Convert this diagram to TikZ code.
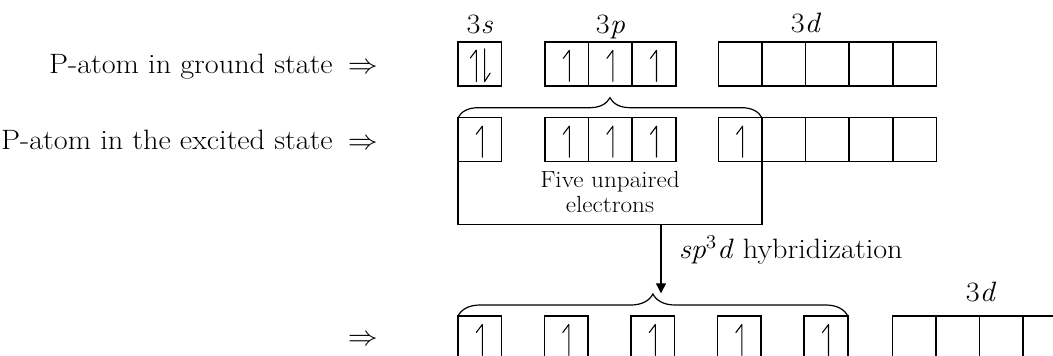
\documentclass[tikz,border=0pt]{standalone}
\usetikzlibrary{decorations.pathreplacing,arrows.meta,calc}
\newcommand{\sttx}[1]{\scalebox{1.08}[1]{#1}}
\newcommand{\uph}[1]{\draw[harp] ($(#1)+(2.5,17.5)$) -- ($(#1)+(2.5,-13.5)$) -- ++(-6,8);}
\begin{document}
\begin{tikzpicture}[x=0.75pt,y=-0.75pt,
  orb/.style={draw, line width=1.2pt, minimum width=32.7pt, minimum height=33pt, inner sep=0pt, outer sep=0pt},
  lbl/.style={font=\fontsize{21}{25}\selectfont, inner sep=0pt, anchor=base},
  small/.style={font=\fontsize{17.5}{18.3}\selectfont, inner sep=0pt, align=center},
  harp/.style={line width=0.8pt, line cap=round, line join=round},
  brc/.style={decorate, decoration={brace, amplitude=15pt}, line width=0.9pt},
  brcb/.style={decorate, decoration={brace, amplitude=16.5pt}, line width=0.9pt},
  arr/.style={line width=0.9pt, -{Triangle[length=7.5pt,width=7.5pt]}}]
\useasboundingbox (0,0) rectangle (1053,356);
\clip (0,0) rectangle (1053,356);

% left labels
\node[lbl, anchor=base east] (t1) at (378,73.3) {\sttx{P-atom in ground state\hspace{0.5em}$\Rightarrow$}};
\node[lbl, anchor=base east] (t2) at (378,149.1) {\sttx{P-atom in the excited state\hspace{0.5em}$\Rightarrow$}};
\node[lbl, anchor=base east] (t3) at (378,345) {\sttx{$\Rightarrow$}};

% orbital labels
\node[lbl] (l3s) at (479.8,33.3) {\sttx{3\textit{s}}};
\node[lbl] (l3p) at (610.4,33.3) {\sttx{3\textit{p}}};
\node[lbl] (l3d) at (806,32.8) {\sttx{3\textit{d}}};
\node[lbl] (l3db) at (981,301.7) {\sttx{3\textit{d}}};

% row 1: ground state
\node[orb] (s1) at (479.8,63.85) {};
\foreach \i/\x in {1/566.8,2/610.4,3/654.0}
  \node[orb] (p\i) at (\x,63.85) {};
\foreach \i/\x in {1/740.1,2/783.7,3/827.3,4/870.9,5/914.5}
  \node[orb] (d\i) at (\x,63.85) {};
\draw[harp] ($(s1)+(-3.5,17.8)$) -- ($(s1)+(-3.5,-13.8)$) -- ++(-6,8);
\draw[harp] ($(s1)+(4.8,-15)$) -- ($(s1)+(4.8,17.8)$) -- ++(5.5,-8.5);
\uph{p1}\uph{p2}\uph{p3}

% row 2: excited state
\node[orb] (e1) at (479.8,139.7) {};
\foreach \i/\x in {1/566.8,2/610.4,3/654.0}
  \node[orb] (ep\i) at (\x,139.7) {};
\foreach \i/\x in {1/740.1,2/783.7,3/827.3,4/870.9,5/914.5}
  \node[orb] (ed\i) at (\x,139.7) {};
\uph{e1}\uph{ep1}\uph{ep2}\uph{ep3}\uph{ed1}

\draw[brc] (e1.north west) -- (ed1.north east);
\coordinate (encl) at (610,224.3);
\draw[line width=1.2pt] (e1.south west) |- (encl) -| (ed1.south east);
\node[small, anchor=north] (five) at (610,171.3) {\sttx{Five unpaired}\\\sttx{electrons}};

% hybridization arrow
\coordinate (arrS) at (661,224.3);
\node[lbl, anchor=base west] (hyb) at (678.5,258.3) {\sttx{\textit{sp}\textsuperscript{3}\textit{d} hybridization}};

% row 3: hybrid orbitals
\foreach \i/\x in {1/479.8,2/566.3,3/652.8,4/739.4,5/826.0}
  \node[orb] (h\i) at (\x,338) {};
\foreach \i/\x in {1/914.1,2/957.7,3/1001.3,4/1044.9}
  \node[orb] (hd\i) at (\x,338) {};
\uph{h1}\uph{h2}\uph{h3}\uph{h4}\uph{h5}

\draw[brcb] (h1.north west) -- (h5.north east);
\coordinate (tip3) at ($(h1.north west)!0.5!(h5.north east)+(0,-22.7)$);
\draw[arr] (arrS) -- (arrS |- tip3);
\end{tikzpicture}
\end{document}
